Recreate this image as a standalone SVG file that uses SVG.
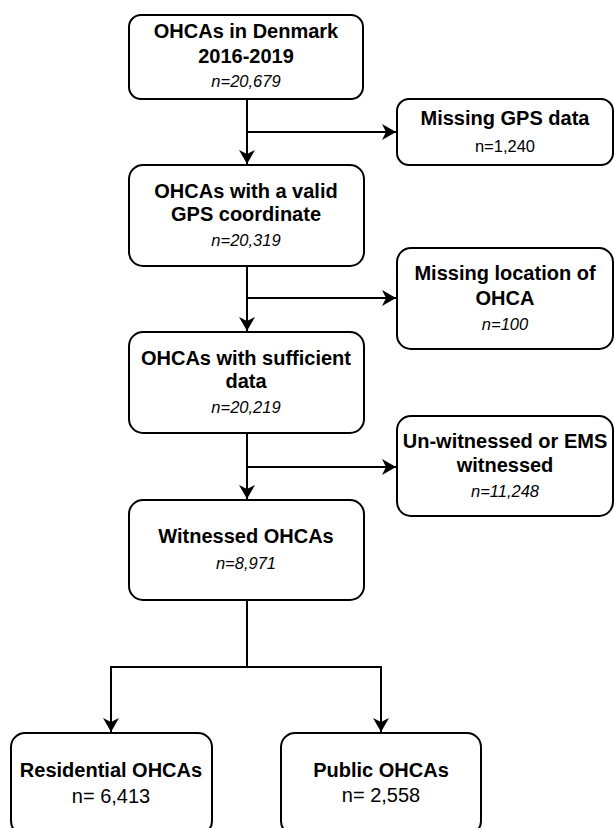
<svg xmlns="http://www.w3.org/2000/svg" width="614" height="828" viewBox="0 0 614 828">
<style>
.box{fill:#fff;stroke:#000;stroke-width:2}
.t{font-family:"Liberation Sans",Arial,sans-serif;text-anchor:middle;fill:#000}
.b{font-weight:bold;font-size:20px}
.i{font-style:italic;font-size:16.5px}
.r{font-size:16.5px}
.r2{font-size:20px}
.c{fill:none;stroke:#000;stroke-width:2}
</style>
<defs>
<marker id="arr" markerUnits="userSpaceOnUse" viewBox="0 0 14 16" refX="14" refY="8" markerWidth="14" markerHeight="16" orient="auto">
<path d="M0,0 L14,8 L0,16 L4,8 Z" fill="#000"/>
</marker>
</defs>
<g id="connectors">
<path class="c" d="M247,99 V164" marker-end="url(#arr)"/>
<path class="c" d="M247,132 H396" marker-end="url(#arr)"/>
<path class="c" d="M247,266 V331" marker-end="url(#arr)"/>
<path class="c" d="M247,298 H396" marker-end="url(#arr)"/>
<path class="c" d="M247,433 V499" marker-end="url(#arr)"/>
<path class="c" d="M247,467 H396" marker-end="url(#arr)"/>
<path class="c" d="M247,600 V667 H111 V732" marker-end="url(#arr)"/>
<path class="c" d="M247,667 H381 V732" marker-end="url(#arr)"/>
</g>
<g id="n1">
<rect class="box" x="129" y="15" width="234" height="84" rx="12"/>
<text class="t b" x="246" y="38">OHCAs in Denmark</text>
<text class="t b" x="246" y="63">2016-2019</text>
<text class="t i" x="246" y="87">n=20,679</text>
</g>
<g id="n2">
<rect class="box" x="397" y="99" width="216" height="66" rx="12"/>
<text class="t b" x="505" y="125">Missing GPS data</text>
<text class="t r" x="505" y="152">n=1,240</text>
</g>
<g id="n3">
<rect class="box" x="129" y="165" width="235" height="101" rx="14"/>
<text class="t b" x="246" y="198">OHCAs with a valid</text>
<text class="t b" x="246" y="221">GPS coordinate</text>
<text class="t i" x="246" y="246">n=20,319</text>
</g>
<g id="n4">
<rect class="box" x="397" y="248" width="216" height="101" rx="14"/>
<text class="t b" x="505" y="280">Missing location of</text>
<text class="t b" x="505" y="305">OHCA</text>
<text class="t i" x="505" y="330">n=100</text>
</g>
<g id="n5">
<rect class="box" x="129" y="332" width="235" height="101" rx="14"/>
<text class="t b" x="246" y="365">OHCAs with sufficient</text>
<text class="t b" x="246" y="388">data</text>
<text class="t i" x="246" y="413">n=20,219</text>
</g>
<g id="n6">
<rect class="box" x="397" y="416" width="216" height="100" rx="14"/>
<text class="t b" x="505" y="448">Un-witnessed or EMS</text>
<text class="t b" x="505" y="472">witnessed</text>
<text class="t i" x="505" y="497">n=11,248</text>
</g>
<g id="n7">
<rect class="box" x="129" y="500" width="235" height="100" rx="14"/>
<text class="t b" x="246" y="543">Witnessed OHCAs</text>
<text class="t i" x="246" y="569">n=8,971</text>
</g>
<g id="n8">
<rect class="box" x="11" y="733" width="201" height="102" rx="14"/>
<text class="t b" x="111" y="777">Residential OHCAs</text>
<text class="t r2" x="111" y="803">n= 6,413</text>
</g>
<g id="n9">
<rect class="box" x="281" y="733" width="200" height="102" rx="14"/>
<text class="t b" x="381" y="777">Public OHCAs</text>
<text class="t r2" x="381" y="802">n= 2,558</text>
</g>
</svg>
